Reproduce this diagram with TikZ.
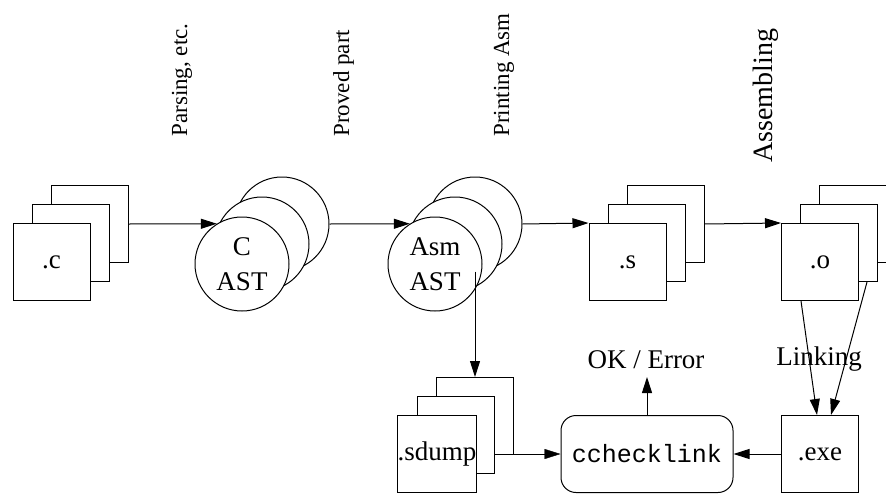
\documentclass[tikz,border=0pt]{standalone}
\usepackage{fontspec}
\setmainfont{Liberation Serif}
\setmonofont{Liberation Mono}
\usetikzlibrary{arrows.meta,calc,backgrounds}

\begin{document}
\begin{tikzpicture}[x=1pt,y=-1pt,line width=1pt,
    every node/.style={font=\fontsize{27}{35}\selectfont},
    file/.style={draw,fill=white,minimum size=77pt,inner sep=0pt},
    ast/.style={draw,fill=white,circle,minimum size=94pt,inner sep=0pt,align=center},
    tool/.style={draw,fill=white,rounded corners=15pt,minimum width=172pt,minimum height=77pt,
      font=\ttfamily\fontsize{25}{30}\selectfont},
    phase/.style={rotate=90,anchor=base west,inner sep=0pt,font=\fontsize{23}{28}\selectfont},
    arr/.style={-{Triangle[length=16pt,width=10pt]}}]

  \useasboundingbox (0,0) rectangle (886,493);
  \clip (0,0) rectangle (886,493);

  % Phases
  \node[phase] (parse) at (187,137) {Parsing, etc.};
  \node[phase] (proved) at (349,137) {Proved part};
  \node[phase] (print) at (509,137) {Printing Asm};
  \node[phase,font=\fontsize{28}{32}\selectfont] (assemble) at (772,163) {Assembling};

  % .c files
  \node[file] (c3) at (89.5,224) {};
  \node[file] (c2) at (70.5,243) {};
  \node[file] (c1) at (51.5,262) {.c};

  % C AST
  \node[ast] (cast3) at (282,224) {};
  \node[ast] (cast2) at (262,244) {};
  \node[ast] (cast1) at (242,264) {C\\AST};

  % Asm AST
  \node[ast] (asm3) at (475,224) {};
  \node[ast] (asm2) at (455,244) {};
  \node[ast] (asm1) at (435,264) {Asm\\AST};

  % .s files
  \node[file] (s3) at (665.5,224) {};
  \node[file] (s2) at (646.5,243) {};
  \node[file] (s1) at (627.5,262) {.s};

  % .o files
  \node[file] (o3) at (858,224) {};
  \node[file] (o2) at (839,243) {};
  \node[file] (o1) at (820,262) {.o};

  % .sdump files
  \node[file] (sd3) at (475,416) {};
  \node[file] (sd2) at (456,435) {};
  \node[file] (sd1) at (437,454) {.sdump};

  \node[tool] (check) at (647,454) {cchecklink};
  \node[file] (exe) at (820,454) {.exe};

  \node (okerr) at (646,360) {OK / Error};
  \coordinate (okin) at (647,377);
  \node[anchor=base] (linking) at (819,365) {Linking};

  % Edges
  \draw[arr] (c3.east) -- (cast1.122);
  \draw[arr] (cast3.east) -- (asm1.122);
  \draw[arr] (asm3.east) -- (s1.north west);
  \draw[arr] (s3.east) -- (o1.north west);
  \draw[arr] (asm3.south) -- (sd3.north);
  \begin{scope}[on background layer]
    \draw[arr] (sd1.east) -- (check.west);
  \end{scope}
  \draw[arr] (exe.west) -- (check.east);
  \draw[arr] (check.north) -- (okin);
  \draw[arr] ($(o1.south)+(-19,0)$) -- ($(exe.north)+(-3,0)$);
  \draw[arr] ($(o2.south)+(28,0)$) -- ($(exe.north)+(11,0)$);
\end{tikzpicture}
\end{document}
